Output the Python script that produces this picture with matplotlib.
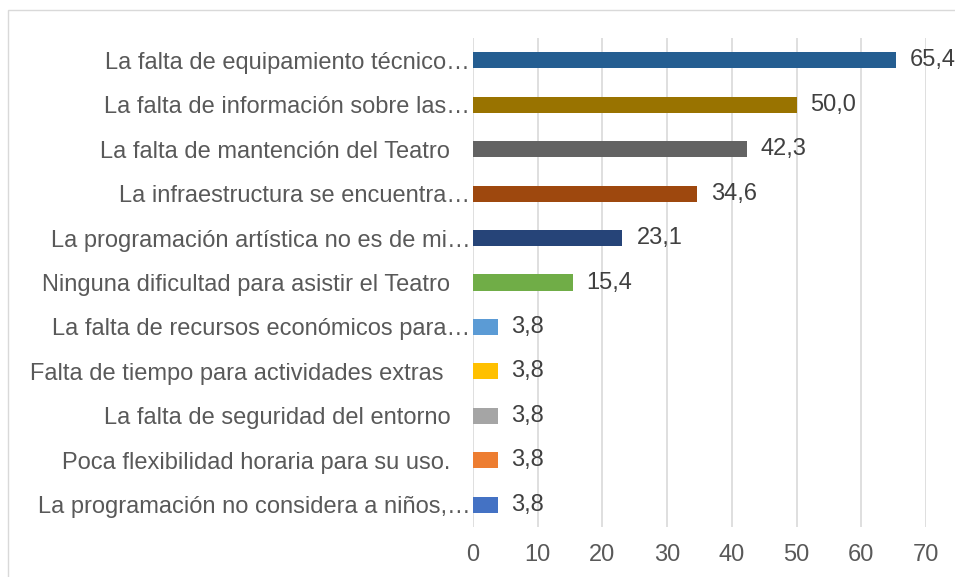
import matplotlib
matplotlib.use('Agg')
import matplotlib.pyplot as plt
from matplotlib.patches import Rectangle

plt.rcParams['font.family'] = ['Liberation Sans', 'DejaVu Sans']

# bottom to top, as the chart stacks them
categories = [
    'La programación no considera a niños,…',
    'Poca flexibilidad horaria para su uso.   ',
    'La falta de seguridad del entorno   ',
    'Falta de tiempo para actividades extras    ',
    'La falta de recursos económicos para…',
    'Ninguna dificultad para asistir el Teatro   ',
    'La programación artística no es de mi…',
    'La infraestructura se encuentra…',
    'La falta de mantención del Teatro   ',
    'La falta de información sobre las…',
    'La falta de equipamiento técnico…',
]
values = [3.8, 3.8, 3.8, 3.8, 3.8, 15.4, 23.1, 34.6, 42.3, 50.0, 65.4]
colors = ['#4472C4', '#ED7D31', '#A5A5A5', '#FFC000', '#5B9BD5', '#70AD47',
          '#264478', '#9E480E', '#636363', '#997300', '#255E91']
xticks = [0, 10, 20, 30, 40, 50, 60, 70]

fig = plt.figure(figsize=(9.55, 5.77), dpi=100)
fig.patches.append(Rectangle((8 / 955, -0.1), 1.2, 1 - 10 / 577 + 0.1,
                             transform=fig.transFigure, fill=False,
                             edgecolor='#D9D9D9', linewidth=1))

ax = fig.add_axes([473 / 955, 1 - 527 / 577, 453 / 955, 489 / 577])
pos = list(range(len(values)))
ax.barh(pos, values, height=0.36, color=colors, zorder=3)

for p, v in zip(pos, values):
    ax.annotate(f'{v:.1f}'.replace('.', ','), (v, p), xytext=(10, 0),
                textcoords='offset points', va='center', ha='left',
                fontsize=17, color='#404040')

ax.set_xlim(0, 70)
ax.set_ylim(-0.5, len(values) - 0.5)
ax.set_xticks(xticks)
ax.set_xticklabels([str(t) for t in xticks])
ax.set_yticks(pos)
ax.set_yticklabels(categories)
ax.tick_params(axis='both', length=0, labelsize=17, labelcolor='#595959')
ax.tick_params(axis='x', pad=12)
ax.tick_params(axis='y', pad=2)
ax.grid(axis='x', color='#D9D9D9', linewidth=1.2, zorder=0)
for s in ax.spines.values():
    s.set_visible(False)

fig.savefig('out.png', dpi=100)
